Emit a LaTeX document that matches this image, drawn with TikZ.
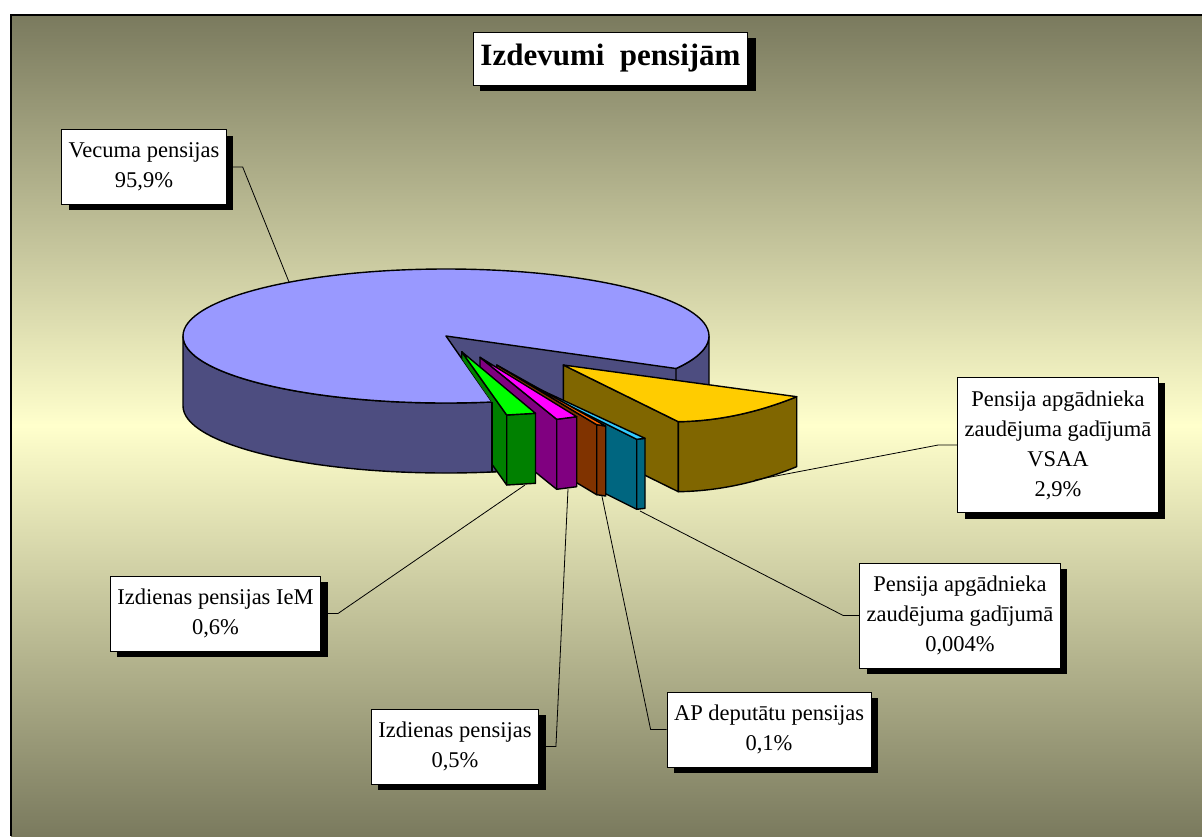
\documentclass[tikz,border=0pt]{standalone}
\usepackage{fontspec}
\setmainfont{Liberation Serif}
\usetikzlibrary{shadows}
\definecolor{bgdark}{HTML}{7A7A5E}
\definecolor{bglight}{HTML}{FFFFCC}
\definecolor{vectop}{HTML}{9999FF}
\definecolor{vecside}{HTML}{4D4D80}
\definecolor{vsaatop}{HTML}{FFCC00}
\definecolor{vsaaside}{HTML}{806600}
\definecolor{apgtop}{HTML}{33CCFF}
\definecolor{apgside}{HTML}{006680}
\definecolor{deptop}{HTML}{FF6600}
\definecolor{depside}{HTML}{803300}
\definecolor{izdtop}{HTML}{FF00FF}
\definecolor{izdside}{HTML}{800080}
\definecolor{iemtop}{HTML}{00FF00}
\definecolor{iemside}{HTML}{008000}

\begin{document}
\begin{tikzpicture}[x=1pt, y=-1pt,
		piece/.style={draw=black, line width=1.4pt, line join=round},
		lbl/.style={draw=black, line width=0.8pt, fill=white, align=center, inner xsep=7pt, inner ysep=13pt,
			font=\fontsize{22.5}{30}\selectfont,
			drop shadow={shadow xshift=7pt, shadow yshift=-6pt, fill=black, opacity=1}},
		lead/.style={draw=black, line width=0.8pt}]
		\useasboundingbox (0,0) rectangle (1202,836);
		% Background and frame:
		\fill[white] (0,0) rectangle (1202,836);
		\shade[top color=bgdark, bottom color=bgdark, middle color=bglight] (11,15) rectangle (1202,836);
		\draw[line width=1.5pt] (11,836) -- (11,15) -- (1202,15);
		% Big slice:
		\filldraw[piece, fill=vecside] (183,336) -- (183,406) arc[start angle=180, end angle=0, x radius=263, y radius=67] -- (709,336) arc[start angle=0, end angle=180, x radius=263, y radius=67] -- cycle;
		\filldraw[piece, fill=vectop] (446,336) ellipse[x radius=263, y radius=67];
		\filldraw[piece, fill=vecside] (446,336) -- (676,368.5) -- (676,438.5) -- (492,472) -- (492,402) -- cycle;
		% Pulled out slices:
		\begin{scope}
			\clip (446,336) -- (492,402) -- (492,560) -- (900,560) -- (900,300) -- (446,300) -- cycle;
			\filldraw[piece, fill=vsaaside] (563.3,365) -- (678.3,421.7) -- (678.3,491.7) -- (563.3,435) -- cycle;
			\filldraw[piece, fill=vsaaside] (678.3,421.7) .. controls (717.8,421.1) and (757.2,412.7) .. (796.7,396.7) -- (796.7,466.7) .. controls (757.2,482.7) and (717.8,491.1) .. (678.3,491.7) -- cycle;
			\filldraw[piece, fill=vsaatop] (563.3,365) -- (678.3,421.7) .. controls (717.8,421.1) and (757.2,412.7) .. (796.7,396.7) -- cycle;
			\filldraw[piece, fill=apgside] (496.7,369.3) -- (636.7,439.3) -- (636.7,509.3) -- (496.7,439.3) -- cycle;
			\filldraw[piece, fill=apgside] (636.7,439.3) -- (645,438.3) -- (645,508.3) -- (636.7,509.3) -- cycle;
			\filldraw[piece, fill=apgtop] (496.7,369.3) -- (636.7,439.3) -- (645,438.3) -- cycle;
			\filldraw[piece, fill=depside] (496.7,365) -- (596.7,424.7) -- (596.7,494.7) -- (496.7,435) -- cycle;
			\filldraw[piece, fill=depside] (596.7,424.7) -- (605.7,426) -- (605.7,496) -- (596.7,494.7) -- cycle;
			\filldraw[piece, fill=deptop] (496.7,365) -- (596.7,424.7) -- (605.7,426) -- cycle;
			\filldraw[piece, fill=izdside] (480,357.3) -- (556.7,419.3) -- (556.7,489.3) -- (480,427.3) -- cycle;
			\filldraw[piece, fill=izdside] (556.7,419.3) -- (576.7,416.7) -- (576.7,486.7) -- (556.7,489.3) -- cycle;
			\filldraw[piece, fill=izdtop] (480,357.3) -- (556.7,419.3) -- (576.7,416.7) -- cycle;
			\filldraw[piece, fill=iemside] (461.7,351.7) -- (506.7,415) -- (506.7,485) -- (461.7,421.7) -- cycle;
			\filldraw[piece, fill=iemside] (506.7,415) -- (535.5,413.3) -- (535.5,483.3) -- (506.7,485) -- cycle;
			\filldraw[piece, fill=iemtop] (461.7,351.7) -- (506.7,415) -- (535.5,413.3) -- cycle;
		\end{scope}
		\draw[piece] (492,402) -- (492,472);
		% Points on the slices:
		\coordinate (vecpt) at (289,282);
		\coordinate (iempt) at (525,485);
		\coordinate (izdpt) at (568,489);
		\coordinate (deppt) at (601.7,495);
		\coordinate (apgpt) at (640,511);
		\coordinate (vsaapt) at (755,480);
		% Labels:
		\node[lbl, font=\bfseries\fontsize{31}{36}\selectfont, minimum width=273pt, minimum height=53pt, inner ysep=4pt,
			drop shadow={shadow xshift=8pt, shadow yshift=-6pt, fill=black, opacity=1}] (title) at (610.5,58.5) {Izdevumi\ \ pensijām};
		\node[lbl] (vec) at (144,167) {Vecuma pensijas\\95,9\%};
		\node[lbl] (iem) at (215.5,613.5) {Izdienas pensijas IeM\\0,6\%};
		\node[lbl] (izd) at (455,746.5) {Izdienas pensijas\\0,5\%};
		\node[lbl] (dep) at (769,729.5) {AP deputātu pensijas\\0,1\%};
		\node[lbl] (apg) at (960,615.5) {Pensija apgādnieka\\zaudējuma gadījumā\\0,004\%};
		\node[lbl] (vsaa) at (1058,445) {Pensija apgādnieka\\zaudējuma gadījumā\\VSAA\\2,9\%};
		% Leaders:
		\draw[lead] (vec.east) -- ++(16,0) -- (vecpt);
		\draw[lead] (iem.east) -- ++(17,0) -- (iempt);
		\draw[lead] (izd.east) -- ++(17,0) -- (izdpt);
		\draw[lead] (dep.west) -- ++(-16,0) -- (deppt);
		\draw[lead] (apg.west) -- ++(-16,0) -- (apgpt);
		\draw[lead] (vsaa.west) -- ++(-19,0) -- (vsaapt);
	\end{tikzpicture}
\end{document}
